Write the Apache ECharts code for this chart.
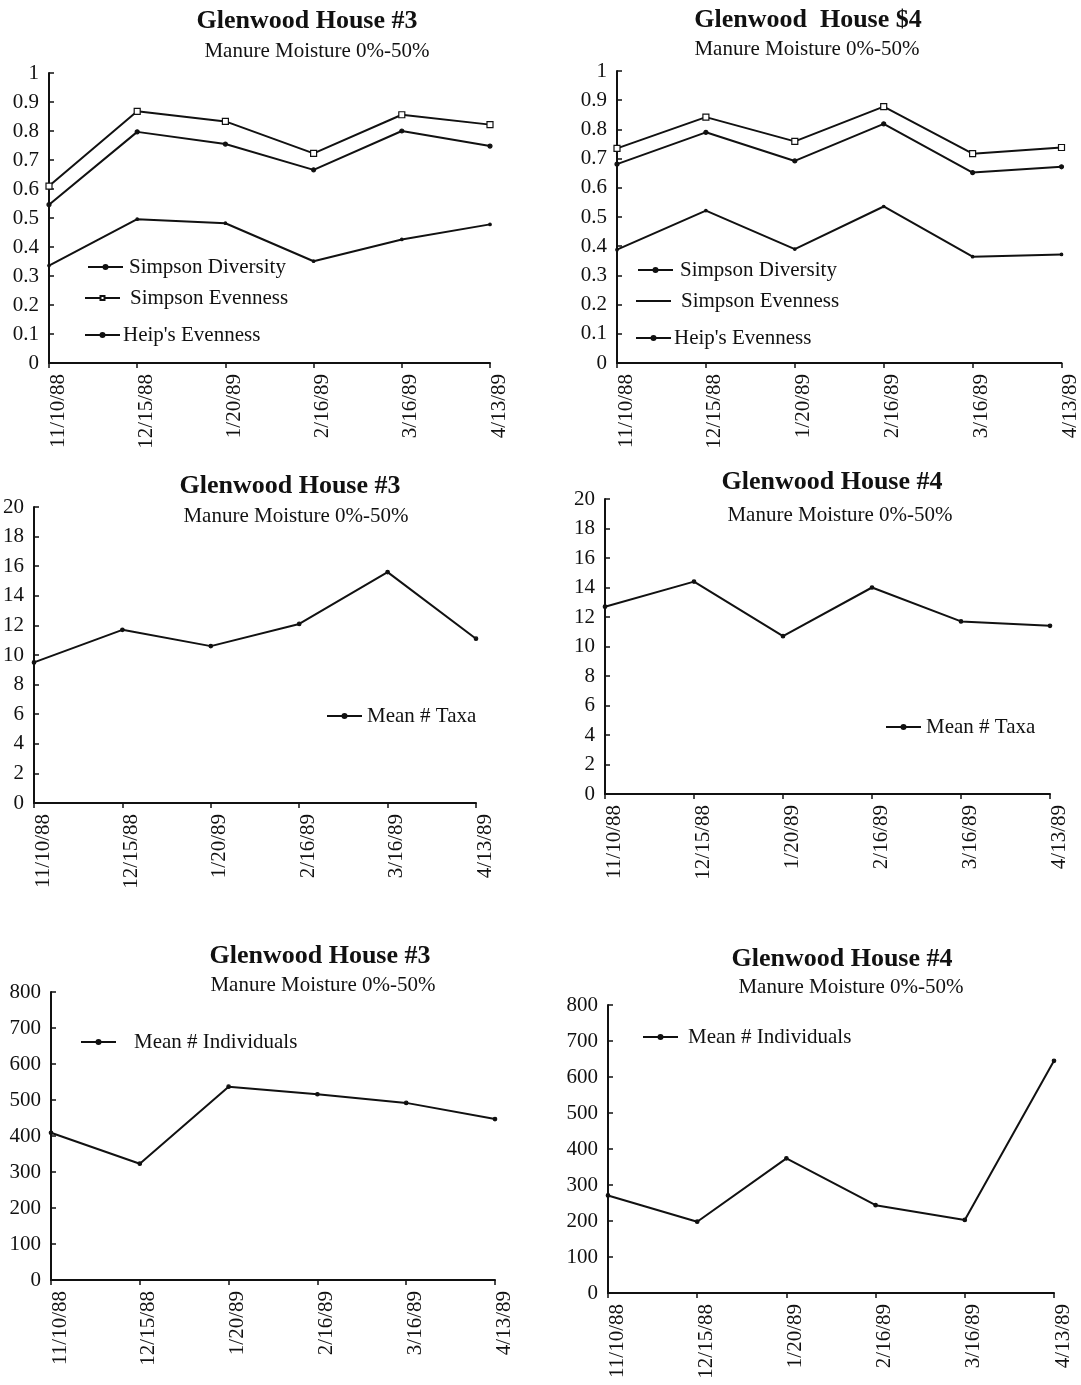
<!DOCTYPE html>
<html>
<head>
<meta charset="utf-8">
<script src="https://cdn.jsdelivr.net/npm/echarts@6/dist/echarts.min.js"></script>
<style>
  html, body { margin: 0; padding: 0; background: #fff; }
  #chart { width: 1081px; height: 1385px; }
</style>
</head>
<body>
<div id="chart"></div>
<script>
// Sampling dates shared by every panel
const dates = ['11/10/88', '12/15/88', '1/20/89', '2/16/89', '3/16/89', '4/13/89'];

// House #3 diversity indices
const h3SimpsonEvenness  = [0.61, 0.868, 0.833, 0.723, 0.856, 0.822];
const h3SimpsonDiversity = [0.546, 0.797, 0.755, 0.666, 0.80, 0.748];
const h3HeipEvenness     = [0.336, 0.496, 0.482, 0.351, 0.426, 0.478];

// House #4 diversity indices
const h4SimpsonEvenness  = [0.735, 0.842, 0.759, 0.878, 0.717, 0.738];
const h4SimpsonDiversity = [0.681, 0.790, 0.692, 0.819, 0.652, 0.672];
const h4HeipEvenness     = [0.388, 0.522, 0.390, 0.536, 0.364, 0.372];

// Mean number of taxa
const h3MeanTaxa = [9.5, 11.7, 10.6, 12.1, 15.6, 11.1];
const h4MeanTaxa = [12.7, 14.4, 10.7, 14.0, 11.7, 11.4];

// Mean number of individuals
const h3MeanIndividuals = [409, 323, 537, 516, 492, 447];
const h4MeanIndividuals = [271, 198, 374, 244, 203, 645];

const TITLE_3 = 'Glenwood House #3';
const TITLE_4 = 'Glenwood House #4';
const SUBTITLE = 'Manure Moisture 0%-50%';

const FONT = '"Liberation Serif", "Times New Roman", serif';
const INK = '#111';

const chart = echarts.init(document.getElementById('chart'), null, { renderer: 'canvas' });

// Panel frames (pixel boxes for each plot area)
const panels = [
  { left: 49,  top: 73,   width: 441, height: 290, min: 0, max: 1,   interval: 0.1 },
  { left: 617, top: 71,   width: 447, height: 292, min: 0, max: 1,   interval: 0.1 },
  { left: 33,  top: 507,  width: 443, height: 296, min: 0, max: 20,  interval: 2 },
  { left: 605, top: 499,  width: 445, height: 295, min: 0, max: 20,  interval: 2 },
  { left: 51,  top: 992,  width: 444, height: 288, min: 0, max: 800, interval: 100 },
  { left: 608, top: 1005, width: 446, height: 288, min: 0, max: 800, interval: 100 }
];

const grid = panels.map(p => ({ left: p.left, top: p.top, width: p.width, height: p.height, containLabel: false }));

const xAxis = panels.map((p, i) => ({
  type: 'category',
  gridIndex: i,
  data: dates,
  boundaryGap: false,
  axisLine: { lineStyle: { color: INK, width: 2 } },
  axisTick: { show: true, length: 5, lineStyle: { color: INK, width: 1.5 } },
  axisLabel: {
    rotate: 90, margin: 11, color: INK, fontFamily: FONT, fontSize: 21,
    verticalAlign: 'top', lineHeight: 18
  },
  splitLine: { show: false }
}));

const yAxis = panels.map((p, i) => ({
  type: 'value',
  gridIndex: i,
  min: p.min, max: p.max, interval: p.interval,
  axisLine: { show: true, lineStyle: { color: INK, width: 2 } },
  axisTick: { show: true, length: 5, inside: true, lineStyle: { color: INK, width: 1.5 } },
  axisLabel: { margin: 10, color: INK, fontFamily: FONT, fontSize: 21 },
  splitLine: { show: false }
}));

function lineSeries(name, idx, values, symbol, symbolSize, fill) {
  return {
    name: name,
    type: 'line',
    xAxisIndex: idx,
    yAxisIndex: idx,
    data: values,
    symbol: symbol,
    symbolSize: symbolSize,
    showSymbol: true,
    lineStyle: { color: INK, width: 2 },
    itemStyle: { color: fill, borderColor: INK, borderWidth: 1.2 },
    animation: false
  };
}

const series = [
  lineSeries('Simpson Evenness', 0, h3SimpsonEvenness, 'rect', 6, '#fff'),
  lineSeries('Simpson Diversity', 0, h3SimpsonDiversity, 'circle', 4, INK),
  lineSeries("Heip's Evenness", 0, h3HeipEvenness, 'circle', 2.5, INK),
  lineSeries('Simpson Evenness', 1, h4SimpsonEvenness, 'rect', 6, '#fff'),
  lineSeries('Simpson Diversity', 1, h4SimpsonDiversity, 'circle', 4, INK),
  lineSeries("Heip's Evenness", 1, h4HeipEvenness, 'circle', 2.5, INK),
  lineSeries('Mean # Taxa', 2, h3MeanTaxa, 'circle', 3.5, INK),
  lineSeries('Mean # Taxa', 3, h4MeanTaxa, 'circle', 3.5, INK),
  lineSeries('Mean # Individuals', 4, h3MeanIndividuals, 'circle', 3.5, INK),
  lineSeries('Mean # Individuals', 5, h4MeanIndividuals, 'circle', 3.5, INK)
];

// One legend entry per box so each label sits where it belongs inside its panel
function legendItem(name, left, centerY, textPad, plain) {
  return {
    data: [plain ? { name: name, itemStyle: { opacity: 0 } } : name],
    left: left,
    top: centerY - 12,
    itemWidth: 35,
    itemHeight: 5,
    padding: 0,
    selectedMode: false,
    textStyle: {
      color: INK, fontFamily: FONT, fontSize: 21, lineHeight: 24,
      padding: [0, 0, 0, textPad]
    }
  };
}

const legend = [
  legendItem('Simpson Diversity', 87, 267, 1),
  legendItem('Simpson Evenness', 84, 298, 5),
  legendItem("Heip's Evenness", 84, 335, -2),
  legendItem('Simpson Diversity', 637, 270, 2),
  legendItem('Simpson Evenness', 635, 301, 5, true),
  legendItem("Heip's Evenness", 635, 338, -2),
  legendItem('Mean # Taxa', 326, 716, 0),
  legendItem('Mean # Taxa', 885, 727, 0),
  legendItem('Mean # Individuals', 80, 1042, 13),
  legendItem('Mean # Individuals', 642, 1037, 5)
];

// Panel headings
function heading(text, cx, cy, bold) {
  return {
    type: 'text',
    x: cx, y: cy,
    style: {
      text: text,
      fill: INK,
      font: (bold ? 'bold 26px ' : '21px ') + FONT,
      textAlign: 'center',
      textVerticalAlign: 'middle'
    }
  };
}

const graphic = [
  heading(TITLE_3, 307, 21, true),              heading(SUBTITLE, 317, 51, false),
  heading('Glenwood  House $4', 808, 20, true), heading(SUBTITLE, 807, 49, false),
  heading(TITLE_3, 290, 486, true),             heading(SUBTITLE, 296, 516, false),
  heading(TITLE_4, 832, 482, true),             heading(SUBTITLE, 840, 515, false),
  heading(TITLE_3, 320, 956, true),             heading(SUBTITLE, 323, 985, false),
  heading(TITLE_4, 842, 959, true),             heading(SUBTITLE, 851, 987, false)
];

chart.setOption({
  backgroundColor: '#fff',
  animation: false,
  grid: grid,
  xAxis: xAxis,
  yAxis: yAxis,
  legend: legend,
  series: series,
  graphic: graphic
});
</script>
</body>
</html>
